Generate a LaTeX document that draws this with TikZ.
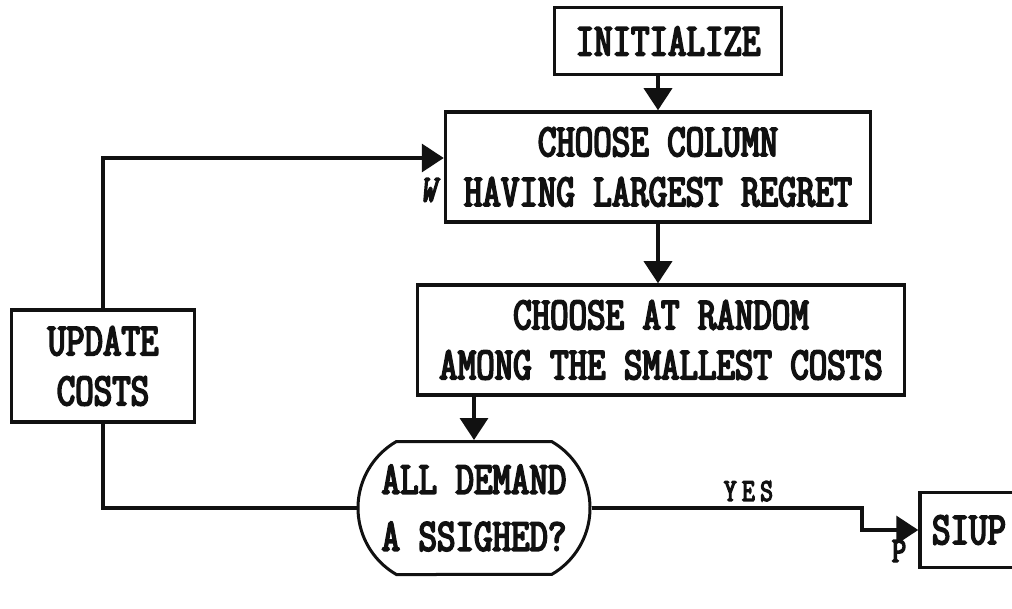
\documentclass[tikz,border=0pt]{standalone}
\usepackage{fontspec}
\newfontfamily\flowfont[FakeStretch=0.78, FakeBold=4]{Latin Modern Mono}
\usetikzlibrary{arrows.meta, shapes.misc}
\definecolor{ink}{HTML}{111111}
\tikzset{
  every node/.style = {text=ink},
  fcbase/.style  = {align=center, inner sep=0pt, font=\flowfont\fontsize{46}{50}\selectfont},
  fcbox/.style   = {fcbase, draw=ink, line width=3.5pt, fill=white},
  fcdec/.style   = {fcbase, draw=ink, line width=3pt, fill=white, rounded rectangle,
                    rounded rectangle arc length=120, font=\flowfont\fontsize{46}{57}\selectfont},
  fcgo/.style    = {-{Triangle[length=22pt,width=28pt]}, draw=ink, line width=3.5pt},
  fcline/.style  = {draw=ink, line width=3.5pt},
  fclab/.style   = {font=\flowfont\fontsize{36}{38}\selectfont, text=ink, inner sep=1pt},
}
\begin{document}
\begin{tikzpicture}[x=1pt, y=-1pt]
\path[use as bounding box, fill=white] (0,0) rectangle (1012,609);

\node[fcbox, minimum width=227pt, minimum height=67pt] (init) at (668,41) {INITIALIZE};
\node[fcbox, minimum width=425pt, minimum height=110pt] (col) at (658,167) {CHOOSE COLUMN\\HAVING LARGEST REGRET};
\node[fcbox, minimum width=487pt, minimum height=110pt] (rand) at (661,340) {CHOOSE AT RANDOM\\AMONG THE SMALLEST COSTS};
\node[fcbox, minimum width=183pt, minimum height=112pt] (upd) at (103,366) {UPDATE\\COSTS};
\node[fcdec, minimum width=232pt, minimum height=133pt] (dec) at (474,508) {ALL DEMAND\\A SSIGHED?};
\node[fcbox, minimum width=98pt, minimum height=75pt] (stop) at (969,530) {SIUP};

\node[fclab, font=\flowfont\itshape\fontsize{38}{40}\selectfont] (w) at (428,190) {W};
\node[fclab] (p) at (899,551) {P};

% main flow
\draw[fcgo] (init.south -| col.north) -- (col.north);
\draw[fcgo] (col.south) -- (col.south |- rand.north);
\draw[fcgo] (rand.south -| dec.north) -- (dec.north);

% loop back
\draw[fcline] (upd.south) |- (dec.west);
\draw[fcgo] (upd.north) |- ([yshift=9pt]col.west);

% exit
\coordinate (jog) at (862,508);
\draw[fcgo] (dec.east) -- node[fclab, pos=0.58, above=4pt, font=\flowfont\fontsize{32}{34}\selectfont] (yes) {Y\,E\,S} (jog) |- (stop.west);
\end{tikzpicture}
\end{document}
